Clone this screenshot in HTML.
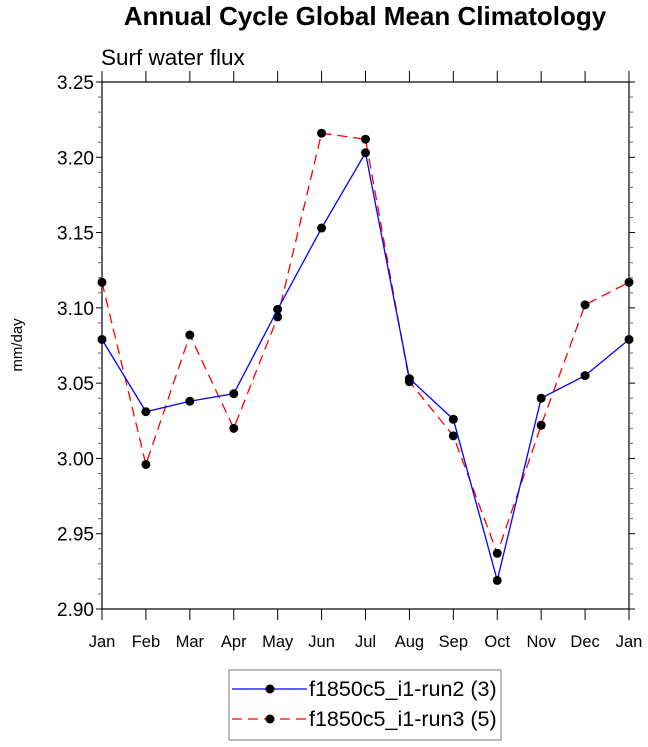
<!DOCTYPE html>
<html><head><meta charset="utf-8"><style>
body{margin:0;background:#fff;}
svg{display:block;font-family:"Liberation Sans",Arial,sans-serif;}
</style></head><body>
<svg id="chart" width="648" height="747">
<text x="365" y="25" text-anchor="middle" font-size="26" font-weight="bold">Annual Cycle Global Mean Climatology</text>
<text x="101" y="65" font-size="22.5">Surf water flux</text>
<text transform="translate(22,345) rotate(-90)" text-anchor="middle" font-size="15">mm/day</text>
<g id="axes"></g><g id="series"></g>
<g>
<rect x="229" y="670" width="272" height="70" fill="none" stroke="#777" stroke-width="1"/>
<g>
<line x1="232" y1="689" x2="307" y2="689" stroke="#0000ff" stroke-width="1.3"/>
<circle cx="270" cy="689" r="4.5" fill="#000"/>
<text x="309" y="696" font-size="21.5">f1850c5_i1-run2 (3)</text></g>
<g>
<line x1="232" y1="719" x2="307" y2="719" stroke="#ff0000" stroke-width="1.3" stroke-dasharray="10,6"/>
<circle cx="270" cy="719" r="4.5" fill="#000"/>
<text x="309" y="726" font-size="21.5">f1850c5_i1-run3 (5)</text></g>
</g>
</svg>
<script>
const months=["Jan","Feb","Mar","Apr","May","Jun","Jul","Aug","Sep","Oct","Nov","Dec","Jan"];
const run2=[3.079,3.031,3.038,3.043,3.099,3.153,3.203,3.053,3.026,2.919,3.040,3.055,3.079];
const run3=[3.117,2.996,3.082,3.020,3.094,3.216,3.212,3.051,3.015,2.937,3.022,3.102,3.117];
const yTicks=["2.90","2.95","3.00","3.05","3.10","3.15","3.20","3.25"];
const L=102,R=629,T=82,B=609,yMin=2.90,yMax=3.25;
const xs=i=>L+(R-L)*i/(months.length-1);
const ys=v=>B-(v-yMin)/(yMax-yMin)*(B-T);
const NS="http://www.w3.org/2000/svg";
function mk(tag,attrs,parent){const e=document.createElementNS(NS,tag);for(const k in attrs)e.setAttribute(k,attrs[k]);parent.appendChild(e);return e;}
const ax=document.getElementById('axes');
const frame=mk('rect',{x:L,y:T,width:R-L,height:B-T,fill:'none',stroke:'#000','stroke-width':1.2},ax);


months.forEach((m,i)=>{
 const x=xs(i);
 mk('line',{x1:x,y1:B,x2:x,y2:B+11,stroke:'#000'},ax);
 mk('line',{x1:x,y1:T,x2:x,y2:T-11,stroke:'#000'},ax);
 const t=mk('text',{x:x,y:B+38,'text-anchor':'middle','font-size':16.5},ax);
 t.textContent=m;
 
 
});
for(let k=0;k<=35;k++){
 const v=yMin+k*0.01,y=ys(v),maj=k%5===0;
 const len=maj?6:4;
 mk('line',{x1:L,y1:y,x2:L-len,y2:y,stroke:maj?'#000':'#666'},ax);
 mk('line',{x1:R,y1:y,x2:R+len,y2:y,stroke:maj?'#000':'#666'},ax);
}
yTicks.forEach(s=>{
 const t=mk('text',{x:L-8,y:ys(parseFloat(s))+7,'text-anchor':'end','font-size':19},ax);
 t.textContent=s;
 
 
});
const sg=document.getElementById('series');
function draw(data,color,dash,name){
 const g=mk('g',{},sg);
 
 
 const pl=mk('polyline',{points:data.map((v,i)=>xs(i)+','+ys(v)).join(' '),fill:'none',stroke:color,'stroke-width':1.3},g);
 if(dash)pl.setAttribute('stroke-dasharray',dash);
 data.forEach((v,i)=>{
  const c=mk('circle',{cx:xs(i),cy:ys(v),r:4.5,fill:'#000'},g);
  
  
 });
}
draw(run3,'#ff0000','10,6','series-run3');
draw(run2,'#0000ff',null,'series-run2');
</script>
</body></html>
